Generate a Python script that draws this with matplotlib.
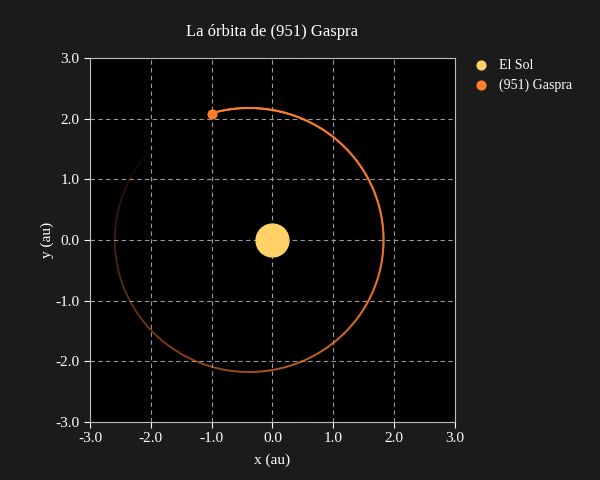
import numpy as np
import matplotlib
matplotlib.use("Agg")
import matplotlib.pyplot as plt
from matplotlib.collections import LineCollection
from matplotlib.colors import to_rgba

# --- data ---
semi_major_axis = 2.21      # au
eccentricity = 0.173
asteroid_pos = [-1.0, 2.08]  # au
sun_pos = [0.0, 0.0]
trail_span_deg = 340.0
tick_values = [-3.0, -2.0, -1.0, 0.0, 1.0, 2.0, 3.0]
labels = ["El Sol", "(951) Gaspra"]
sun_color = "#FFD166"
ast_color = "#FF7F2A"

plt.rcParams['font.family'] = ['Liberation Serif', 'DejaVu Serif']

fig = plt.figure(figsize=(6, 4.8), dpi=100, facecolor="#1b1b1b")
ax = fig.add_axes([0.15, 0.121, 0.608, 0.758])
ax.set_facecolor("black")

# orbit trail
nu0 = np.degrees(np.arctan2(asteroid_pos[1], asteroid_pos[0]))
nu = np.radians(np.linspace(nu0 - trail_span_deg, nu0, 600))
p = semi_major_axis * (1 - eccentricity**2)
r = p / (1 + eccentricity * np.cos(nu))
x = r * np.cos(nu)
y = r * np.sin(nu)
pts = np.column_stack([x, y]).reshape(-1, 1, 2)
segs = np.concatenate([pts[:-1], pts[1:]], axis=1)
alphas = np.linspace(0.0, 1.0, len(segs))
base = np.array(to_rgba(ast_color))
cols = np.tile(base, (len(segs), 1))
cols[:, 3] = alphas
lc = LineCollection(segs, colors=cols, linewidths=1.5, capstyle="round")
ax.add_collection(lc)

ax.scatter([sun_pos[0]], [sun_pos[1]], s=560, color=sun_color, zorder=5, label=labels[0])
ax.scatter([asteroid_pos[0]], [asteroid_pos[1]], s=40, color=ast_color, zorder=6, label=labels[1])

ax.set_xlim(-3, 3)
ax.set_ylim(-3, 3)
ax.set_xticks(tick_values)
ax.set_yticks(tick_values)
ax.set_xticklabels([f"{v:.1f}" for v in tick_values])
ax.set_yticklabels([f"{v:.1f}" for v in tick_values])
ax.grid(True, color="#9a9a9a", linestyle=(0, (4, 3)), linewidth=0.8)
ax.set_axisbelow(True)
for s in ax.spines.values():
    s.set_color("#bbbbbb")
ax.tick_params(colors="white", labelsize=11, length=4)
ax.set_xlabel("x (au)", color="white", fontsize=11, labelpad=6)
ax.set_ylabel("y (au)", color="white", fontsize=11, labelpad=1)
ax.set_title("La órbita de (951) Gaspra", color="white", fontsize=12, pad=16)

leg = ax.legend(loc="upper left", bbox_to_anchor=(1.0, 1.033), frameon=False,
                labelcolor="white", fontsize=10, handletextpad=0.3)
for h in leg.legend_handles:
    h.set_sizes([40])

fig.savefig("out.png", dpi=100, facecolor=fig.get_facecolor())
